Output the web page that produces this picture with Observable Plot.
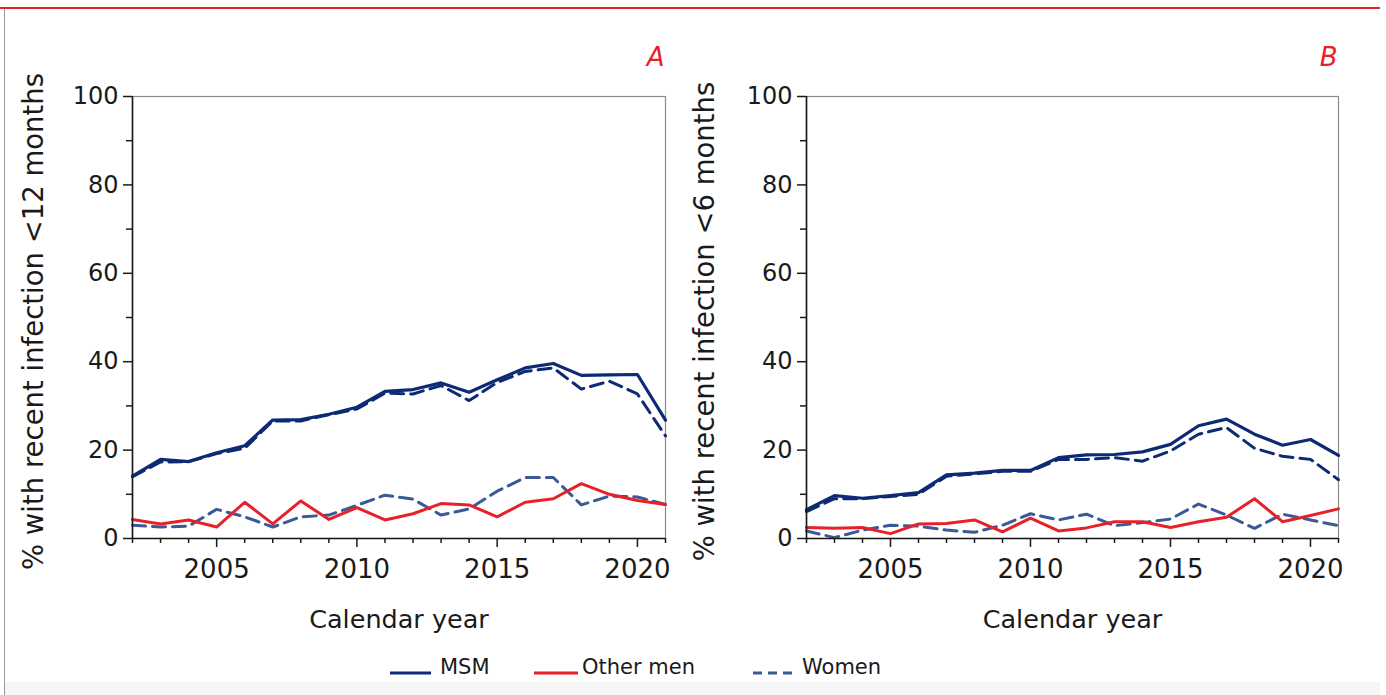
<!DOCTYPE html>
<html>
<head>
<meta charset="utf-8">
<script src="https://cdn.jsdelivr.net/npm/d3@7"></script>
<script src="https://cdn.jsdelivr.net/npm/@observablehq/plot@0.6"></script>
<style>
  html, body { margin: 0; padding: 0; background: #fff; }
  #root { position: relative; width: 1386px; height: 695px; overflow: hidden; font-family: "DejaVu Sans", Verdana, sans-serif; color: #1a1a1a; }
  #root > .abs { position: absolute; }
</style>
</head>
<body>
<div id="root"></div>
<script>
// ---------- data ----------
const years = [2002,2003,2004,2005,2006,2007,2008,2009,2010,2011,2012,2013,2014,2015,2016,2017,2018,2019,2020,2021];
const labelYears = [2005, 2010, 2015, 2020];
const yTicks = [0, 20, 40, 60, 80, 100];
const yMinorTicks = [10, 30, 50, 70, 90];

// Panel A: % with recent infection <12 months
const A_msm       = [14.1,17.9,17.4,19.4,21.0,26.8,26.9,28.1,29.7,33.3,33.7,35.2,33.1,35.9,38.6,39.6,36.9,37.0,37.1,26.8];
const A_msmDashed = [14.0,17.3,17.4,19.2,20.4,26.6,26.6,28.0,29.3,32.9,32.7,34.6,31.2,35.3,37.8,38.6,33.8,35.6,32.7,23.2];
const A_otherMen  = [4.3,3.3,4.2,2.6,8.2,3.3,8.5,4.3,7.0,4.2,5.6,7.9,7.6,4.9,8.2,9.0,12.4,10.0,8.6,7.7];
const A_women     = [3.0,2.6,2.8,6.6,4.9,2.6,4.9,5.3,7.5,9.8,8.9,5.3,6.7,10.7,13.8,13.8,7.6,9.6,9.4,7.7];

// Panel B: % with recent infection <6 months
const B_msm       = [6.5,9.7,9.1,9.7,10.4,14.4,14.8,15.4,15.4,18.3,18.9,19.0,19.6,21.3,25.5,27.0,23.6,21.1,22.4,18.8];
const B_msmDashed = [6.1,9.0,9.0,9.5,10.0,14.1,14.6,15.2,15.2,17.9,17.9,18.3,17.5,19.8,23.6,25.1,20.4,18.6,17.9,13.3];
const B_otherMen  = [2.5,2.3,2.5,1.1,3.3,3.4,4.2,1.5,4.6,1.7,2.4,3.8,3.8,2.5,3.8,4.8,9.0,3.8,5.2,6.7];
const B_women     = [1.7,0.2,1.9,3.0,2.8,1.9,1.4,3.0,5.6,4.2,5.5,2.9,3.6,4.4,7.8,5.3,2.3,5.5,4.2,2.9];

const seriesNames = ["MSM", "Other men", "Women"];
const panelLetters = ["A", "B"];
const yTitles = ["% with recent infection <12 months", "% with recent infection <6 months"];
const xTitle = "Calendar year";

// ---------- styles ----------
const NAVY = "#0c2b74";
const RED = "#e8202a";
const WOMEN_BLUE = "#3a5a97";
const INK = "#1a1a1a";

const root = document.getElementById("root");

function addDiv(css) {
  const d = document.createElement("div");
  d.className = "abs";
  Object.assign(d.style, css);
  root.appendChild(d);
  return d;
}
// page decoration (border lines, bottom band)
addDiv({left: "0px", top: "7px", width: "1380px", height: "2px", background: "#e3242b"});
addDiv({left: "4px", top: "9px", width: "1px", height: "690px", background: "#9a9a9a"});
addDiv({left: "5px", top: "682px", width: "1375px", height: "13px", background: "#f6f6f6"});

function panel(msm, msmDashed, other, women, letter, yTitle, opts) {
  const toRows = (vals) => years.map((y, i) => ({year: y, v: vals[i]}));
  const minorYears = years.filter(y => !labelYears.includes(y));
  return Plot.plot({
    width: opts.width,
    height: 650,
    marginLeft: opts.marginLeft,
    marginRight: opts.marginRight,
    marginTop: 96,
    marginBottom: 112,
    style: {fontFamily: "DejaVu Sans, Verdana, sans-serif", fontSize: "24px", color: INK, background: "transparent", overflow: "visible"},
    x: {domain: [2002, 2021]},
    y: {domain: [0, 100]},
    marks: [
      Plot.frame({stroke: "#8a8a8a", strokeWidth: 1.2}),
      Plot.line(toRows(women), {x: "year", y: "v", stroke: WOMEN_BLUE, strokeWidth: 3, strokeDasharray: "13,7"}),
      Plot.line(toRows(other), {x: "year", y: "v", stroke: RED, strokeWidth: 3}),
      Plot.line(toRows(msmDashed), {x: "year", y: "v", stroke: NAVY, strokeWidth: 3, strokeDasharray: "13,7"}),
      Plot.line(toRows(msm), {x: "year", y: "v", stroke: NAVY, strokeWidth: 3.2}),
      Plot.ruleX([2002], {stroke: INK, strokeWidth: 1.6}),
      Plot.ruleY([0], {stroke: INK, strokeWidth: 1.6}),
      Plot.axisY({ticks: yTicks, tickSize: 9, tickPadding: 5, fontSize: 24, tickFormat: d => String(d), label: null, strokeWidth: 1.5}),
      Plot.axisY({ticks: yMinorTicks, tickSize: 6, tickFormat: () => "", label: null, strokeWidth: 1.5}),
      Plot.axisX({ticks: labelYears, tickSize: 9, tickPadding: 12, fontSize: 26, tickFormat: d => String(d), label: null, strokeWidth: 1.5}),
      Plot.axisX({ticks: minorYears, tickSize: 5, tickFormat: () => "", label: null, strokeWidth: 1.5}),
      Plot.text([xTitle], {frameAnchor: "bottom", dy: 89, lineAnchor: "bottom", fontSize: 25.5, fill: INK}),
      Plot.text([yTitle], {frameAnchor: "left", rotate: -90, dx: opts.titleDx, dy: 4, textAnchor: "middle", lineAnchor: "bottom", fontSize: 27.5, fill: INK}),
      Plot.text([letter], {frameAnchor: "top-right", dx: -1, dy: -31, textAnchor: "end", lineAnchor: "bottom", fontSize: 26, fontStyle: "italic", fill: RED})
    ]
  });
}

const pA = panel(A_msm, A_msmDashed, A_otherMen, A_women, panelLetters[0], yTitles[0], {width: 690, marginLeft: 132, marginRight: 25, titleDx: -90});
pA.classList.add("abs");
pA.style.left = "0px"; pA.style.top = "0px";
root.appendChild(pA);

const pB = panel(B_msm, B_msmDashed, B_otherMen, B_women, panelLetters[1], yTitles[1], {width: 690, marginLeft: 126, marginRight: 32, titleDx: -93});
pB.classList.add("abs");
pB.style.left = "680px"; pB.style.top = "0px";
root.appendChild(pB);

// ---------- legend ----------
const legendItems = [
  {name: seriesNames[0], color: NAVY, dash: null, x0: 390, x1: 431, tx: 440},
  {name: seriesNames[1], color: RED, dash: null, x0: 534, x1: 578, tx: 582},
  {name: seriesNames[2], color: WOMEN_BLUE, dash: "9,6", x0: 753, x1: 797, tx: 802}
];
const leg = d3.create("svg").attr("width", 1386).attr("height", 60)
  .attr("class", "abs").style("left", "0px").style("top", "640px");
const g = leg.selectAll("g").data(legendItems).join("g");
g.append("line")
  .attr("x1", d => d.x0).attr("x2", d => d.x1).attr("y1", 33).attr("y2", 33)
  .attr("stroke", d => d.color).attr("stroke-width", 3)
  .attr("stroke-dasharray", d => d.dash);
g.append("text")
  .attr("x", d => d.tx).attr("y", 34)
  .attr("font-family", "DejaVu Sans, Verdana, sans-serif").attr("font-size", 21)
  .attr("fill", INK).text(d => d.name);
root.appendChild(leg.node());
</script>
</body>
</html>
